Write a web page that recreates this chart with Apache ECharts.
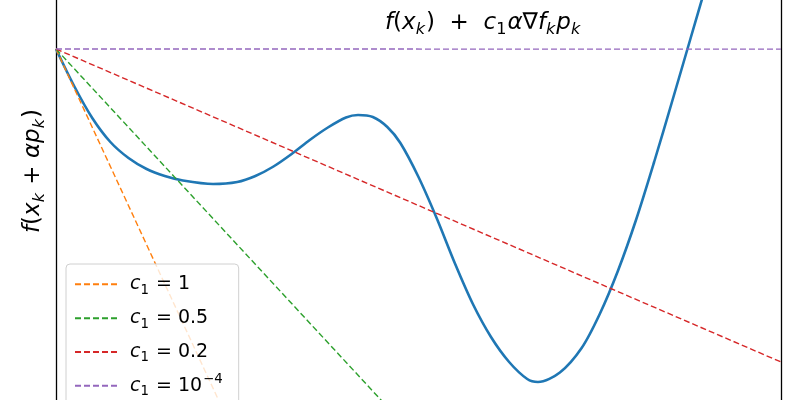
<!DOCTYPE html>
<html><head><meta charset="utf-8">
<script src="https://cdn.jsdelivr.net/npm/echarts@6/dist/echarts.min.js"></script>
<style>html,body{margin:0;padding:0;background:#fff}#c{width:800px;height:400px}</style>
</head><body><div id="c"></div>
<script>
// step length alpha and merit function phi(alpha) = f(x_k + alpha p_k) - f(x_k)
const curveAlpha = [0,0.25,0.5,0.75,1,1.25,1.5,1.75,2.166,2.5,2.75,3,3.25,3.5,3.75,4,4.166,4.37,4.57,4.75,5,5.25,5.5,5.75,6,6.25,6.5,6.648,6.95,7.25,7.5,7.75,8,8.25,8.5,8.75,9];
const curvePhi   = [0,-0.74,-1.38,-1.86,-2.18,-2.40,-2.54,-2.63,-2.70,-2.66,-2.54,-2.35,-2.10,-1.82,-1.57,-1.37,-1.32,-1.36,-1.56,-1.88,-2.56,-3.38,-4.28,-5.10,-5.76,-6.26,-6.60,-6.66,-6.47,-5.98,-5.30,-4.44,-3.42,-2.26,-1.04,0.20,1.44];
// sufficient-decrease lines f(x_k) + c1 * alpha * grad f_k p_k  (start and end points)
const lineNames = ['c1 = 1','c1 = 0.5','c1 = 0.2','c1 = 1e-4'];
const lineAlpha = [[0,2.5],[0,5],[0,10],[0,10]];
const lineValue = [[0,-7.83],[0,-7.83],[0,-6.26],[0,-0.003]];
const lineColors = ['#ff7f0e','#2ca02c','#d62728','#9467bd'];

const chart = echarts.init(document.getElementById('c'), null, {renderer:'canvas'});
const F = 'DejaVu Sans';
const mathRich = (fs) => ({
  i:{fontFamily:F,fontStyle:'italic',fontWeight:'normal',fontSize:fs,lineHeight:fs*1.3,verticalAlign:'middle',color:'#000'},
  n:{fontFamily:F,fontWeight:'normal',fontSize:fs,lineHeight:fs*1.3,verticalAlign:'middle',color:'#000'},
  s:{fontFamily:F,fontStyle:'italic',fontWeight:'normal',fontSize:fs*0.7,lineHeight:fs*0.7,padding:[fs*0.62,1,0,0],verticalAlign:'top',color:'#000'},
  sn:{fontFamily:F,fontWeight:'normal',fontSize:fs*0.7,lineHeight:fs*0.7,padding:[fs*0.62,1,0,0],verticalAlign:'top',color:'#000'},
  sup:{fontFamily:F,fontWeight:'normal',fontSize:fs*0.7,lineHeight:fs*0.7,padding:[0,0,0,1],verticalAlign:'top',color:'#000'}
});
const legendLabels = {
  'c1 = 1':'{i|c}{sn|1}{n| = 1}',
  'c1 = 0.5':'{i|c}{sn|1}{n| = 0.5}',
  'c1 = 0.2':'{i|c}{sn|1}{n| = 0.2}',
  'c1 = 1e-4':'{i|c}{sn|1}{n| = 10}{sup|−4}'
};
const series = [{
  type:'line', name:'phi', data:curveAlpha.map((a,i)=>[a,curvePhi[i]]),
  showSymbol:false, symbol:'none', smooth:0.3, lineStyle:{color:'#1f77b4',width:2.6}, z:2
}];
lineNames.forEach((nm,k)=>{
  series.push({type:'line',name:nm,data:lineAlpha[k].map((a,i)=>[a,lineValue[k][i]]),
    symbol:'none',showSymbol:false,lineStyle:{color:lineColors[k],width:1.4,type:[6,3]},itemStyle:{color:lineColors[k]},z:3});
});
const hidden = {axisTick:{show:false},axisLabel:{show:false},splitLine:{show:false}};
chart.setOption({
  animation:false,
  backgroundColor:'#fff',
  grid:{left:56,right:19,top:0,bottom:0,show:false},
  xAxis:{type:'value',min:0,max:10,axisLine:{show:false},...hidden},
  yAxis:[
    {type:'value',min:-7.02,max:0.98,position:'left',axisLine:{show:true,onZero:false,lineStyle:{color:'#000',width:1.3}},...hidden},
    {type:'value',min:-7.02,max:0.98,position:'right',axisLine:{show:true,onZero:false,lineStyle:{color:'#000',width:1.3}},...hidden}
  ],
  title:{text:'{i|f}{n|(}{i|x}{s|k}{n|)  +  }{i|c}{sn|1}{i|α}{n|∇}{i|f}{s|k}{i|p}{s|k}',left:380,top:3,
    textStyle:{fontWeight:'normal',rich:mathRich(23)}},
  legend:{data:lineNames,orient:'vertical',left:66,top:264,height:300,itemWidth:42,itemHeight:14,itemGap:9,
    itemStyle:{opacity:0},
    backgroundColor:'rgba(255,255,255,0.8)',borderColor:'#d0d0d0',borderWidth:1,borderRadius:4,padding:[8,16,8,8],
    formatter:(nm)=>legendLabels[nm],textStyle:{rich:mathRich(19),padding:[0,0,0,8]}},
  graphic:[{type:'text',x:33,y:171,rotation:Math.PI/2,
    style:{text:'{i|f}{n|(}{i|x}{s|k}{n| + }{i|αp}{s|k}{n|)}',rich:mathRich(23),align:'center',verticalAlign:'middle'}}],
  series
});
</script></body></html>
